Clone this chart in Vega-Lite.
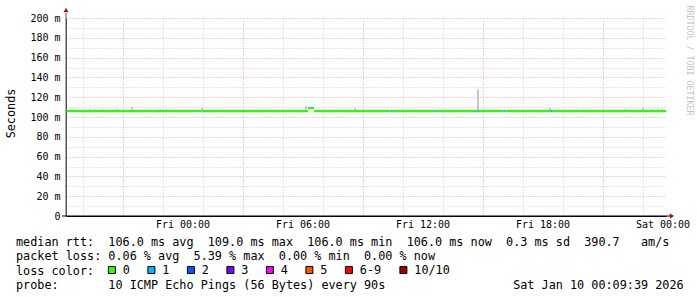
{
  "$schema": "https://vega.github.io/schema/vega-lite/v6.json",
  "width": 600,
  "height": 198,
  "autosize": {"type": "none"},
  "padding": {"left": 66, "top": 18, "right": 31, "bottom": 81},
  "background": "white",
  "config": {"view": {"stroke": null}},
  "title": {
    "text": [
      "median rtt:\u00a0\u00a0106.0 ms avg\u00a0\u00a0109.0 ms max\u00a0\u00a0106.0 ms min\u00a0\u00a0106.0 ms now\u00a0\u00a00.3 ms sd\u00a0\u00a0390.7\u00a0\u00a0\u00a0am/s",
      "packet loss:\u00a00.06 % avg\u00a0\u00a05.39 % max\u00a0\u00a00.00 % min\u00a0\u00a00.00 % now",
      "loss color:",
      "probe:\u00a0\u00a0\u00a0\u00a0\u00a0\u00a0\u00a010 ICMP Echo Pings (56 Bytes) every 90s\u00a0\u00a0\u00a0\u00a0\u00a0\u00a0\u00a0\u00a0\u00a0\u00a0\u00a0\u00a0\u00a0\u00a0\u00a0\u00a0\u00a0\u00a0Sat Jan 10 00:09:39 2026"
    ],
    "orient": "bottom",
    "anchor": "start",
    "frame": "group",
    "dx": -50,
    "offset": -40,
    "font": "DejaVu Sans Mono",
    "fontSize": 11.8,
    "fontWeight": "normal",
    "color": "black",
    "lineHeight": 14.3
  },
  "datasets": {
    "smoke": [
      {"h": -4.65, "lo": 106, "hi": 108},
      {"h": -4.4, "lo": 106, "hi": 108},
      {"h": -4.25, "lo": 106, "hi": 107.5},
      {"h": -4.05, "lo": 106, "hi": 108},
      {"h": -3.65, "lo": 106, "hi": 107},
      {"h": -3.3, "lo": 106, "hi": 108},
      {"h": -2.55, "lo": 106, "hi": 110},
      {"h": -1.15, "lo": 106, "hi": 108},
      {"h": 0.95, "lo": 106, "hi": 109},
      {"h": 6.15, "lo": 106, "hi": 111},
      {"h": 8.6, "lo": 106, "hi": 109},
      {"h": 14.75, "lo": 106, "hi": 128},
      {"h": 18.35, "lo": 106, "hi": 109},
      {"h": 20.05, "lo": 106, "hi": 108},
      {"h": 22.1, "lo": 106, "hi": 108},
      {"h": 23.0, "lo": 106, "hi": 109},
      {"h": 23.45, "lo": 106, "hi": 108},
      {"h": 23.95, "lo": 106, "hi": 108}
    ],
    "median": [
      {"start": -5.85, "end": 0.93, "rtt": 106, "loss": "0"},
      {"start": 0.93, "end": 0.98, "rtt": 106, "loss": "1"},
      {"start": 0.98, "end": 6.25, "rtt": 106, "loss": "0"},
      {"start": 6.25, "end": 6.55, "rtt": 109, "loss": "0"},
      {"start": 6.55, "end": 10.38, "rtt": 106, "loss": "0"},
      {"start": 10.38, "end": 10.45, "rtt": 106, "loss": "1"},
      {"start": 10.45, "end": 12.63, "rtt": 106, "loss": "0"},
      {"start": 12.63, "end": 12.7, "rtt": 106, "loss": "1"},
      {"start": 12.7, "end": 14.73, "rtt": 106, "loss": "0"},
      {"start": 14.73, "end": 14.8, "rtt": 106, "loss": "1"},
      {"start": 14.8, "end": 16.03, "rtt": 106, "loss": "0"},
      {"start": 16.03, "end": 16.12, "rtt": 106, "loss": "1"},
      {"start": 16.12, "end": 18.37, "rtt": 106, "loss": "0"},
      {"start": 18.37, "end": 18.45, "rtt": 106, "loss": "1"},
      {"start": 18.45, "end": 24.15, "rtt": 106, "loss": "0"}
    ],
    "xlabels": [
      {"h": 0, "label": "Fri 00:00"},
      {"h": 6, "label": "Fri 06:00"},
      {"h": 12, "label": "Fri 12:00"},
      {"h": 18, "label": "Fri 18:00"},
      {"h": 24, "label": "Sat 00:00"}
    ]
  },
  "resolve": {"axis": {"y": "independent"}},
  "layer": [
    {
      "data": {"name": "smoke"},
      "mark": {"type": "rule", "color": "#909090", "strokeWidth": 1},
      "encoding": {
        "x": {
          "field": "h", "type": "quantitative",
          "scale": {"domain": [-5.85, 24.15], "nice": false, "zero": false, "padding": 0},
          "axis": {
            "title": null,
            "values": [-5, -4, -3, -2, -1, 0, 1, 2, 3, 4, 5, 6, 7, 8, 9, 10, 11, 12, 13, 14, 15, 16, 17, 18, 19, 20, 21, 22, 23, 24],
            "labels": false,
            "domain": true,
            "domainColor": "black",
            "ticks": false,
            "grid": true,
            "gridDash": [1, 2],
            "gridWidth": 1,
            "gridOpacity": 1,
            "gridColor": {"condition": {"test": "datum.value % 3 == 0", "value": "#e6a3a3"}, "value": "#cccccc"}
          }
        },
        "y": {
          "field": "lo", "type": "quantitative",
          "scale": {"domain": [0, 200], "nice": false, "zero": true, "padding": 0},
          "axis": {
            "orient": "left",
            "title": "Seconds",
            "titleFont": "DejaVu Sans Mono",
            "titleFontSize": 11.8,
            "titleFontWeight": "normal",
            "titleColor": "black",
            "titleAngle": -90,
            "titleX": -56,
            "titleY": 95,
            "titleAlign": "center",
            "titleBaseline": "middle",
            "values": [0, 10, 20, 30, 40, 50, 60, 70, 80, 90, 100, 110, 120, 130, 140, 150, 160, 170, 180, 190, 200],
            "labelExpr": "datum.value % 20 == 0 ? (datum.value == 0 ? '0' : datum.value + ' m') : ''",
            "labelFont": "DejaVu Sans Mono",
            "labelFontSize": 10,
            "labelColor": "black",
            "labelPadding": 6,
            "labelOverlap": false,
            "labelFlush": false,
            "domain": true,
            "domainColor": "#555555",
            "ticks": false,
            "grid": true,
            "gridDash": [1, 2],
            "gridWidth": 1,
            "gridOpacity": 1,
            "gridColor": {"condition": {"test": "datum.value % 20 == 0", "value": "#e6a3a3"}, "value": "#cccccc"}
          }
        },
        "y2": {"field": "hi"}
      }
    },
    {
      "data": {"name": "median"},
      "mark": {"type": "bar", "height": 2.3},
      "encoding": {
        "x": {"field": "start", "type": "quantitative"},
        "x2": {"field": "end"},
        "y": {
          "field": "rtt", "type": "quantitative",
          "axis": {
            "orient": "right",
            "labels": false, "ticks": false, "domain": false, "grid": false,
            "title": "RRDTOOL / TOBI OETIKER",
            "titleAngle": 90,
            "titleFont": "DejaVu Sans Mono",
            "titleFontSize": 8.3,
            "titleFontWeight": "normal",
            "titleColor": "#c4c4c4",
            "titleX": 22,
            "titleY": 42,
            "titleAlign": "center",
            "titleBaseline": "middle"
          }
        },
        "color": {
          "field": "loss", "type": "nominal",
          "scale": {
            "domain": ["0", "1", "2", "3", "4", "5", "6-9", "10/10"],
            "range": ["#26ff00", "#00b8ff", "#0059ff", "#7e00ff", "#ff00ff", "#ff5500", "#ff0000", "#a10000"]
          },
          "legend": {
            "title": null,
            "orient": "none",
            "legendX": 40,
            "legendY": 246,
            "direction": "horizontal",
            "columns": 8,
            "symbolType": "square",
            "symbolSize": 49,
            "symbolStrokeWidth": 1,
            "symbolStrokeColor": "black",
            "symbolOpacity": 1,
            "labelFont": "DejaVu Sans Mono",
            "labelFontSize": 11.8,
            "labelColor": "black",
            "labelOffset": 5,
            "columnPadding": 15.5
          }
        }
      }
    },
    {
      "data": {"name": "xlabels"},
      "mark": {"type": "text", "font": "DejaVu Sans Mono", "fontSize": 10, "color": "black", "align": "center", "baseline": "middle", "dy": 8.5},
      "encoding": {
        "x": {"field": "h", "type": "quantitative"},
        "y": {"datum": 0, "type": "quantitative", "axis": null},
        "text": {"field": "label", "type": "nominal"}
      }
    },
    {
      "data": {"values": [{}]},
      "mark": {"type": "rule", "color": "#555555", "strokeWidth": 1},
      "encoding": {
        "x": {"datum": -5.85, "type": "quantitative"},
        "y": {"datum": 0, "type": "quantitative", "axis": null},
        "y2": {"datum": 205}
      }
    },
    {
      "data": {"values": [{}]},
      "mark": {"type": "rule", "color": "black", "strokeWidth": 1},
      "encoding": {
        "x": {"datum": -6.05, "type": "quantitative"},
        "x2": {"datum": 24.4},
        "y": {"datum": 0, "type": "quantitative", "axis": null}
      }
    },
    {
      "data": {"values": [{}]},
      "mark": {"type": "point", "shape": "triangle-up", "filled": true, "color": "#9b1515", "size": 26, "opacity": 1},
      "encoding": {
        "x": {"datum": -5.85, "type": "quantitative"},
        "y": {"datum": 208, "type": "quantitative", "axis": null}
      }
    },
    {
      "data": {"values": [{}]},
      "mark": {"type": "point", "shape": "triangle-right", "filled": true, "color": "#9b1515", "size": 26, "opacity": 1},
      "encoding": {
        "x": {"datum": 24.45, "type": "quantitative"},
        "y": {"datum": 0, "type": "quantitative", "axis": null}
      }
    }
  ]
}
